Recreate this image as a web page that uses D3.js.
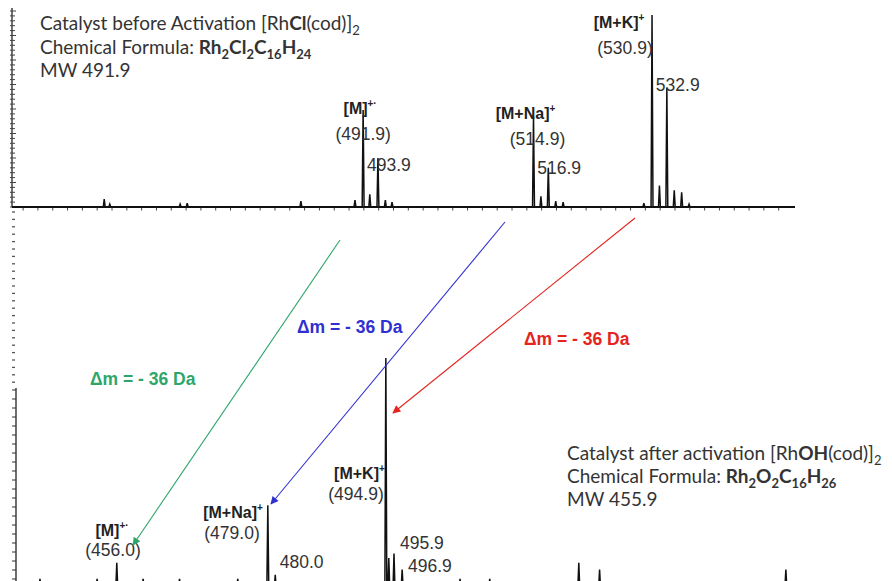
<!DOCTYPE html>
<html><head><meta charset="utf-8">
<script src="https://cdn.jsdelivr.net/npm/d3@7"></script>
<style>
html,body{margin:0;padding:0;background:#fff;}
svg{display:block;}
</style></head>
<body>
<svg id="chart" width="892" height="581"></svg>
<script>
// ---------- DATA ----------
// Top spectrum: catalyst before activation (m/z, relative intensity %)
const topMz  = [456.95, 457.7, 467.2, 468.15, 483.5, 490.8, 491.9, 492.8, 493.9, 494.9, 495.8,
                514.9, 515.9, 516.9, 517.9, 518.9, 529.8, 530.9, 531.9, 532.9, 533.9, 534.9, 535.9];
const topInt = [4, 1.5, 1.5, 2, 3, 3.5, 49.5, 6.5, 25, 3.5, 2.5,
                46, 5.5, 20, 3, 2.5, 2, 98, 11, 61, 8.5, 7.5, 1.5];
// Bottom spectrum: catalyst after activation
const botMz  = [448.3, 456.0, 458.65, 462.2, 467.1, 474.95, 479.0, 480.0, 494.9, 495.3, 496.0, 497.1,
                504.9, 508.9, 520.9, 523.7, 548.8];
const botInt = [4, 4, 11, 4, 4, 4, 36, 5.7, 100, 13, 15, 8,
                4, 4, 11, 8, 8];
// Peak label texts
const topLabelTitles = ["[M]", "[M+Na]", "[M+K]"];
const topLabelSups   = ["+·", "+", "+"];
const topLabelMain   = ["(491.9)", "(514.9)", "(530.9)"];
const topLabelIso    = ["493.9", "516.9", "532.9"];
const botLabelTitles = ["[M]", "[M+Na]", "[M+K]"];
const botLabelSups   = ["+·", "+", "+"];
const botLabelMain   = ["(456.0)", "(479.0)", "(494.9)"];
const botLabelIso    = ["480.0", "495.9", "496.9"];
const deltaText = "Δm = - 36 Da";

// ---------- LAYOUT ----------
const svg = d3.select("#chart");
const topBase = 207, topLeft = 12, topRight = 795;
const botBase = 588, botLeft = 15, botRight = 892;

const xTop = d3.scaleLinear().domain([444.5, 550.2]).range([topLeft, topRight]);
const yTop = d3.scaleLinear().domain([0, 100]).range([topBase, topBase - 196]);
const xBot = d3.scaleLinear().domain([444.8, 563.1]).range([botLeft - 1, botRight]);
const yBot = d3.scaleLinear().domain([0, 100]).range([botBase, botBase - 230]);

function profile(mz, inten) {
  const idx = d3.range(mz.length).sort((a, b) => mz[a] - mz[b]);
  const pts = [];
  idx.forEach(i => {
    pts.push([mz[i] - 0.13, 0]);
    pts.push([mz[i], inten[i]]);
    pts.push([mz[i] + 0.13, 0]);
  });
  return pts;
}

// ---------- AXES ----------
const gTopAxis = svg.append("g");
gTopAxis.append("line").attr("x1", topLeft).attr("x2", topLeft).attr("y1", 8).attr("y2", topBase)
  .attr("stroke", "#222").attr("stroke-width", 1.3);
const topTickScale = d3.scaleLinear().domain([0, 40]).range([topBase, topBase - 196]);
d3.range(0, 41).forEach(v => {
  gTopAxis.append("line").attr("x1", topLeft - 2).attr("x2", topLeft + (v % 5 === 0 ? 4 : 3))
    .attr("y1", topTickScale(v)).attr("y2", topTickScale(v)).attr("stroke", "#444").attr("stroke-width", 1);
});
svg.append("line").attr("x1", topLeft).attr("x2", topRight).attr("y1", topBase).attr("y2", topBase)
  .attr("stroke", "#111").attr("stroke-width", 2);
d3.range(446, 550, 2).forEach(v => {
  svg.append("line").attr("x1", xTop(v)).attr("x2", xTop(v)).attr("y1", topBase).attr("y2", topBase + 3.5)
    .attr("stroke", "#444").attr("stroke-width", 1);
});
d3.range(212, 386, 7.4).forEach(y => {
  svg.append("line").attr("x1", 12).attr("x2", 15).attr("y1", y).attr("y2", y)
    .attr("stroke", "#555").attr("stroke-width", 1.3);
});
const gBotAxis = svg.append("g");
gBotAxis.append("line").attr("x1", botLeft + 1).attr("x2", botLeft + 1).attr("y1", 388).attr("y2", 581)
  .attr("stroke", "#222").attr("stroke-width", 1.3);
d3.range(390, 582, 9).forEach(y => {
  gBotAxis.append("line").attr("x1", botLeft - 3).attr("x2", botLeft + 1).attr("y1", y).attr("y2", y)
    .attr("stroke", "#333").attr("stroke-width", 1);
});

// ---------- SPECTRA ----------
const lineTop = d3.line().x(d => xTop(d[0])).y(d => yTop(d[1]));
const lineBot = d3.line().x(d => xBot(d[0])).y(d => yBot(d[1]));
const topPts = [[xTop.domain()[0], 0], ...profile(topMz, topInt), [xTop.domain()[1], 0]];
svg.append("path").attr("d", lineTop(topPts)).attr("fill", "none").attr("stroke", "#111")
  .attr("stroke-width", 1.5);
const botPts = [[xBot.domain()[0], 0], ...profile(botMz, botInt), [xBot.domain()[1], 0]];
svg.append("path").attr("d", lineBot(botPts)).attr("fill", "none").attr("stroke", "#111")
  .attr("stroke-width", 1.5);

// ---------- TEXT HELPERS ----------
const ARIAL = "'Liberation Sans', Arial, sans-serif";
const CAL = "Lato, 'Open Sans', sans-serif";
function supLabel(x, y, title, sup, anchor) {
  const t = svg.append("text").attr("x", x).attr("y", y).attr("text-anchor", anchor || "middle")
    .attr("font-family", ARIAL).attr("font-weight", "bold").attr("font-size", 16).attr("fill", "#222");
  t.append("tspan").text(title);
  t.append("tspan").attr("dy", -7).attr("font-size", 10).text(sup);
  return t;
}
function plain(x, y, txt, anchor) {
  return svg.append("text").attr("x", x).attr("y", y).attr("text-anchor", anchor || "start")
    .attr("font-family", ARIAL).attr("font-size", 17.5).attr("fill", "#333").text(txt);
}
function rich(x, y, parts) {
  const t = svg.append("text").attr("x", x).attr("y", y).attr("font-family", CAL)
    .attr("font-size", 19).attr("fill", "#333");
  let shift = 0;
  parts.forEach(p => {
    const want = p.sub ? 5 : 0;
    const ts = t.append("tspan").text(p.t).attr("dy", want - shift);
    shift = want;
    if (p.bold) ts.attr("font-weight", "bold");
    if (p.sub) ts.attr("font-size", 13);
  });
  return t;
}

// ---------- TOP LABELS ----------
const topMainMz = [491.9, 514.9, 530.9];
const topIsoMz = [493.9, 516.9, 532.9];
const topTitleDy = [-93, -88, -179];
const topTitleDx = [-3, -8, -33];
const topMainDx = [0, 4, -27];
const topIsoDy = [13, 6, 4];
[0, 1, 2].forEach(i => {
  const px = xTop(topMainMz[i]);
  supLabel(px + topTitleDx[i], topBase + topTitleDy[i], topLabelTitles[i], topLabelSups[i]);
  plain(px + topMainDx[i], topBase + topTitleDy[i] + 26, topLabelMain[i], "middle");
  const ix = xTop(topIsoMz[i]);
  const iy = yTop(topInt[topMz.indexOf(topIsoMz[i])]);
  plain(ix - 11, iy + topIsoDy[i], topLabelIso[i], "start");
});

// ---------- BOTTOM LABELS ----------
supLabel(112, 536, botLabelTitles[0], botLabelSups[0]);
plain(113, 556, botLabelMain[0], "middle");
supLabel(xBot(479.0) - 5, 518, botLabelTitles[1], botLabelSups[1], "end");
plain(232, 539, botLabelMain[1], "middle");
plain(xBot(479.0) + 12, 568, botLabelIso[0], "start");
supLabel(xBot(494.9) - 1, 479, botLabelTitles[2], botLabelSups[2], "end");
plain(356, 500, botLabelMain[2], "middle");
plain(400, 549, botLabelIso[1], "start");
plain(408, 572, botLabelIso[2], "start");

// ---------- DESCRIPTIONS ----------
rich(40, 30, [{t: "Catalyst before Activation [Rh"}, {t: "Cl", bold: true}, {t: "(cod)]"}, {t: "2", sub: true}]);
rich(40, 54, [{t: "Chemical Formula: "}, {t: "Rh", bold: true}, {t: "2", bold: true, sub: true},
  {t: "Cl", bold: true}, {t: "2", bold: true, sub: true}, {t: "C", bold: true}, {t: "16", bold: true, sub: true},
  {t: "H", bold: true}, {t: "24", bold: true, sub: true}]);
rich(40, 77, [{t: "MW 491.9"}]);

rich(567, 460, [{t: "Catalyst after activation [Rh"}, {t: "OH", bold: true}, {t: "(cod)]"}, {t: "2", sub: true}]);
rich(567, 483, [{t: "Chemical Formula: "}, {t: "Rh", bold: true}, {t: "2", bold: true, sub: true},
  {t: "O", bold: true}, {t: "2", bold: true, sub: true}, {t: "C", bold: true}, {t: "16", bold: true, sub: true},
  {t: "H", bold: true}, {t: "26", bold: true, sub: true}]);
rich(567, 506, [{t: "MW 455.9"}]);

// ---------- ARROWS ----------
const arrows = [
  {c: "#2ea66a", x1: 340, y1: 240, x2: 133, y2: 545, tx: 90, ty: 385},
  {c: "#3030d0", x1: 505, y1: 222, x2: 271, y2: 504, tx: 297, ty: 333},
  {c: "#e32420", x1: 635, y1: 218, x2: 393, y2: 413, tx: 524, ty: 345}
];
const defs = svg.append("defs");
arrows.forEach((a, i) => {
  defs.append("marker").attr("id", "ah" + i).attr("viewBox", "0 0 10 10").attr("refX", 9).attr("refY", 5)
    .attr("markerWidth", 10).attr("markerHeight", 8).attr("markerUnits", "userSpaceOnUse").attr("orient", "auto")
    .append("path").attr("d", "M0,0 L10,5 L0,10 Z").attr("fill", a.c);
  svg.append("line").attr("x1", a.x1).attr("y1", a.y1).attr("x2", a.x2).attr("y2", a.y2)
    .attr("stroke", a.c).attr("stroke-width", 1.1).attr("marker-end", "url(#ah" + i + ")");
  svg.append("text").attr("x", a.tx).attr("y", a.ty).attr("font-family", ARIAL).attr("font-weight", "bold")
    .attr("font-size", 17.5).attr("fill", a.c).text(deltaText);
});
</script>
</body></html>
